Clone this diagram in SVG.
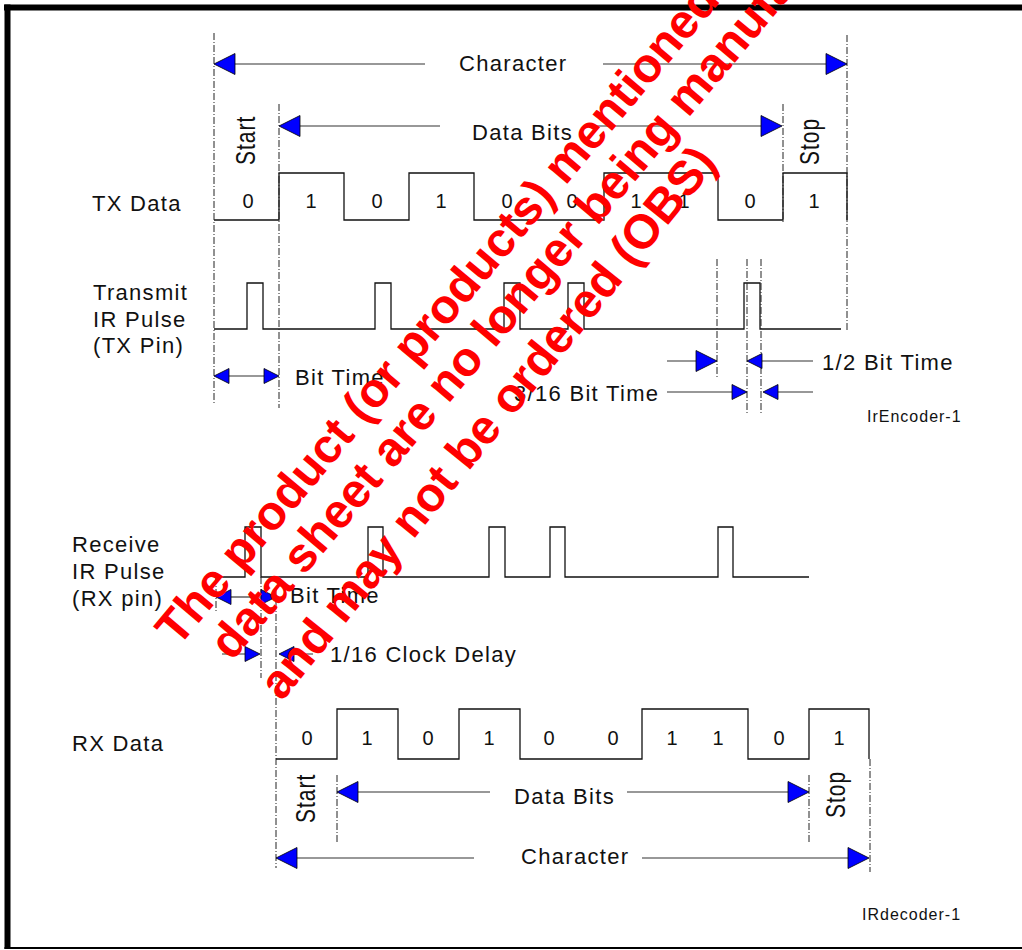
<svg xmlns="http://www.w3.org/2000/svg" xmlns:xlink="http://www.w3.org/1999/xlink" width="1022" height="950" viewBox="0 0 1022 950">
<style>
.wave{fill:none;stroke:#111;stroke-width:1.3}
.dim{fill:none;stroke:#333;stroke-width:1.2}
.dd{fill:none;stroke:#222;stroke-width:1;stroke-dasharray:7 2 1 2}
.ah{fill:#0000ff;stroke:#000;stroke-width:0.8}
text{font-family:"Liberation Sans",Arial,sans-serif;fill:#111}
.lbl{font-size:22px;letter-spacing:1.3px}
.dig{font-size:20px;text-anchor:middle}
.rot{font-size:21px;letter-spacing:1px}
.tag{font-size:16px;letter-spacing:1px}
.wm text{font-family:"Liberation Sans",Arial,sans-serif;font-weight:bold;font-size:48px;fill:#ff0000}
</style>
<defs>
<path id="aL" d="M0,0 L21,-10.5 L21,10.5 Z"/>
<path id="aR" d="M0,0 L-21,-10.5 L-21,10.5 Z"/>
<path id="sL" d="M0,0 L15,-7.5 L15,7.5 Z"/>
<path id="sR" d="M0,0 L-15,-7.5 L-15,7.5 Z"/>
</defs>
<rect width="1022" height="950" fill="#fff"/>
<g id="frame">
<line x1="4" y1="7.5" x2="1022" y2="7.5" stroke="#000" stroke-width="6"/>
<line x1="7.5" y1="4.5" x2="7.5" y2="949" stroke="#000" stroke-width="6"/>
<line x1="4.5" y1="948" x2="1022" y2="948" stroke="#000" stroke-width="2"/>
</g>
<g id="tx-data">
<path class="wave" d="M214,220 H279 V173 H344 V220 H409 V173 H474 V220 H604 V173 H718 V220 H783 V173 H847 V220"/>
<text class="dig" x="248" y="208">0</text><text class="dig" x="311" y="208">1</text><text class="dig" x="377" y="208">0</text><text class="dig" x="441" y="208">1</text><text class="dig" x="507" y="208">0</text><text class="dig" x="572" y="208">0</text><text class="dig" x="636" y="208">1</text><text class="dig" x="684" y="208">1</text><text class="dig" x="750" y="208">0</text><text class="dig" x="814" y="208">1</text>
<text class="lbl" x="92" y="211">TX Data</text>
<text class="rot" transform="translate(255,165) rotate(-90) scale(1,1.3)">Start</text>
<text class="rot" transform="translate(819,165) rotate(-90) scale(1,1.3)">Stop</text>
</g>
<g id="tx-pulse">
<path class="wave" d="M214,329 H247 V283 H263 V329 H375 V283 H391 V329 H504 V283 H520 V329 H568 V283 H584 V329 H744 V283 H760 V329 H841"/>
<text class="lbl" x="93" y="300">Transmit</text>
<text class="lbl" x="93" y="327">IR Pulse</text>
<text class="lbl" x="93" y="353">(TX Pin)</text>
</g>
<g id="rx-pulse">
<path class="wave" d="M215,577 H245 V527 H261 V577 H368 V527 H383 V577 H489 V527 H505 V577 H550 V527 H565 V577 H718 V527 H733 V577 H809"/>
<text class="lbl" x="72" y="552">Receive</text>
<text class="lbl" x="72" y="579">IR Pulse</text>
<text class="lbl" x="72" y="606">(RX pin)</text>
</g>
<g id="rx-data">
<path class="wave" d="M276,759 H337 V709 H398 V759 H459 V709 H520 V759 H642 V709 H748 V759 H809 V709 H869 V759"/>
<text class="dig" x="307" y="745">0</text><text class="dig" x="367" y="745">1</text><text class="dig" x="428" y="745">0</text><text class="dig" x="489" y="745">1</text><text class="dig" x="549" y="745">0</text><text class="dig" x="613" y="745">0</text><text class="dig" x="672" y="745">1</text><text class="dig" x="718" y="745">1</text><text class="dig" x="779" y="745">0</text><text class="dig" x="839" y="745">1</text>
<text class="lbl" x="72" y="751">RX Data</text>
<text class="rot" transform="translate(315,823) rotate(-90) scale(1,1.3)">Start</text>
<text class="rot" transform="translate(845,818) rotate(-90) scale(1,1.3)">Stop</text>
</g>
<g id="connectors">
<line class="dd" x1="214" y1="33" x2="214" y2="405"/>
<line class="dd" x1="279" y1="104" x2="279" y2="408"/>
<line class="dd" x1="847" y1="35" x2="847" y2="331"/>
<line class="dd" x1="783" y1="104" x2="783" y2="222"/>
<line class="dd" x1="717" y1="259" x2="717" y2="377"/>
<line class="dd" x1="747" y1="259" x2="747" y2="414"/>
<line class="dd" x1="761" y1="259" x2="761" y2="414"/>
<line class="dd" x1="216" y1="577" x2="216" y2="613"/>
<line class="dd" x1="261" y1="577" x2="261" y2="678"/>
<line class="dd" x1="276" y1="590" x2="276" y2="868"/>
<line class="dd" x1="337" y1="775" x2="337" y2="842"/>
<line class="dd" x1="809" y1="775" x2="809" y2="842"/>
<line class="dd" x1="870" y1="759" x2="870" y2="872"/>
<path class="dim" d="M235,64 H425 M603,64 H826"/>
<use xlink:href="#aL" href="#aL" class="ah" x="214" y="64"/>
<use xlink:href="#aR" href="#aR" class="ah" x="847" y="64"/>
<text class="lbl" x="459" y="71">Character</text>
<path class="dim" d="M300,126 H440 M586,126 H761"/>
<use xlink:href="#aL" href="#aL" class="ah" x="279" y="126"/>
<use xlink:href="#aR" href="#aR" class="ah" x="782" y="126"/>
<text class="lbl" x="472" y="140">Data Bits</text>
<path class="dim" d="M229,376 H264"/>
<use xlink:href="#sL" href="#sL" class="ah" x="214" y="376"/>
<use xlink:href="#sR" href="#sR" class="ah" x="279" y="376"/>
<text class="lbl" x="295" y="385">Bit Time</text>
<path class="dim" d="M667,361 H696 M762,361 H813"/>
<use xlink:href="#aR" href="#aR" class="ah" x="717" y="361"/>
<use xlink:href="#sL" href="#sL" class="ah" x="747" y="361"/>
<text class="lbl" x="822" y="370">1/2 Bit Time</text>
<path class="dim" d="M667,392 H732 M778,392 H813"/>
<use xlink:href="#sR" href="#sR" class="ah" x="747" y="392"/>
<use xlink:href="#sL" href="#sL" class="ah" x="763" y="392"/>
<text class="lbl" x="514" y="401">3/16 Bit Time</text>
<text class="tag" x="867" y="422">IrEncoder-1</text>
<path class="dim" d="M231,597 H261"/>
<use xlink:href="#sL" href="#sL" class="ah" x="216" y="597"/>
<use xlink:href="#sR" href="#sR" class="ah" x="276" y="597"/>
<text class="lbl" x="290" y="603">Bit Time</text>
<path class="dim" d="M222,654 H245 M294,654 H313"/>
<use xlink:href="#sR" href="#sR" class="ah" x="260" y="654"/>
<use xlink:href="#sL" href="#sL" class="ah" x="279" y="654"/>
<text class="lbl" x="330" y="662">1/16 Clock Delay</text>
<path class="dim" d="M358,792 H490 M627,792 H788"/>
<use xlink:href="#aL" href="#aL" class="ah" x="337" y="792"/>
<use xlink:href="#aR" href="#aR" class="ah" x="809" y="792"/>
<text class="lbl" x="514" y="804">Data Bits</text>
<path class="dim" d="M297,858 H474 M642,858 H848"/>
<use xlink:href="#aL" href="#aL" class="ah" x="276" y="858"/>
<use xlink:href="#aR" href="#aR" class="ah" x="869" y="858"/>
<text class="lbl" x="521" y="864">Character</text>
<text class="tag" x="862" y="920">IRdecoder-1</text>
</g>
<g id="watermark" class="wm">
<text transform="translate(178,648) rotate(-50)">The product (or products) mentioned in this</text>
<text transform="translate(232,662) rotate(-50)">data sheet are no longer being manufactured</text>
<text transform="translate(282,702) rotate(-51)">and may not be ordered (OBS)</text>
</g>
</svg>
